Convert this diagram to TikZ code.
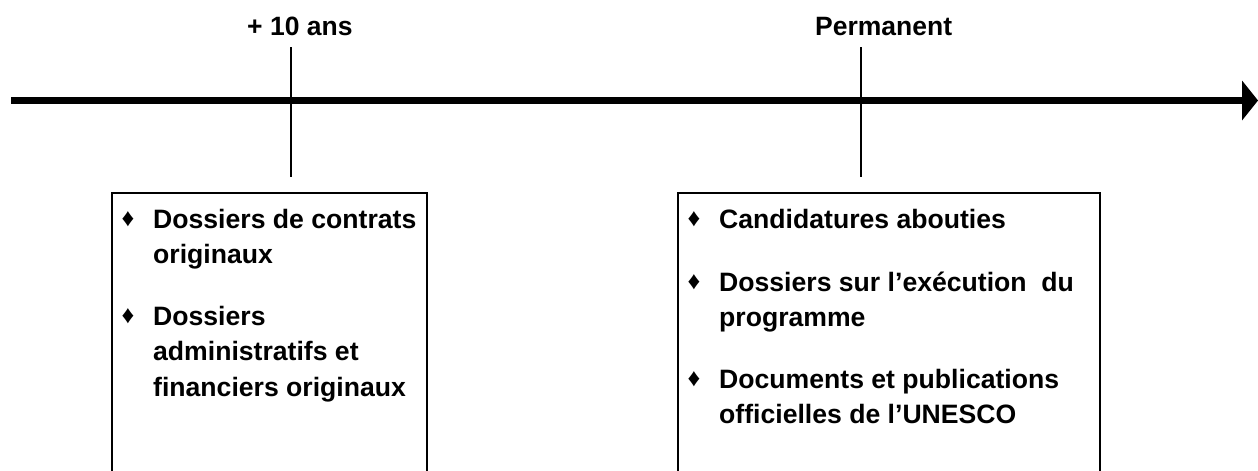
\documentclass[tikz,border=0pt]{standalone}
\usepackage{fontspec}
\setmainfont{Liberation Sans}
\begin{document}
\begin{tikzpicture}[x=1pt,y=-1pt,
  lbl/.style={inner sep=0pt,anchor=base west,font=\fontsize{26.5}{35.5}\selectfont\bfseries},
  itm/.style={inner sep=0pt,anchor=base west,font=\fontsize{26.6}{35.5}\selectfont\bfseries},
  bul/.style={inner sep=0pt,anchor=center,font=\fontsize{25}{28}\selectfont},
  boxst/.style={draw,line width=2pt,inner sep=0pt,anchor=north west},
  tick/.style={line width=1.5pt},
  axis/.style={line width=7pt}]
\useasboundingbox (0,0) rectangle (1258,471);
% axis
\coordinate (axs) at (11,100.5);
\coordinate (axe) at (1243,100.5);
\coordinate (tipt) at (1242,80.5);
\coordinate (tipm) at (1258,100.5);
\coordinate (tipb) at (1242,120.5);
\draw[axis] (axs) -- (axe);
\fill (tipt) -- (tipm) -- (tipb) -- cycle;
% labels
\node[lbl] (l1) at (247,35) {+ 10 ans};
\node[lbl] (l2) at (815,35) {Permanent};
% ticks
\coordinate (t1a) at (291,47);
\coordinate (t1b) at (291,177);
\coordinate (t2a) at (861,47);
\coordinate (t2b) at (861,177);
\draw[tick] (t1a) -- (t1b);
\draw[tick] (t2a) -- (t2b);
% boxes
\node[boxst,minimum width=315,minimum height=330] (b1) at (111,192) {};
\node[boxst,minimum width=422,minimum height=330] (b2) at (677,192) {};
% left items
\node[bul] (bl1) at (128,219) {♦};
\node[itm] (il1) at (153,228) {\begin{tabular}[t]{@{}l@{}}Dossiers de contrats\\originaux\end{tabular}};
\node[bul] (bl2) at (128,316) {♦};
\node[itm] (il2) at (153,325) {\begin{tabular}[t]{@{}l@{}}Dossiers\\administratifs et\\financiers originaux\end{tabular}};
% right items
\node[bul] (br1) at (694,219) {♦};
\node[itm] (ir1) at (719,228) {Candidatures abouties};
\node[bul] (br2) at (694,282) {♦};
\node[itm] (ir2) at (719,291) {\begin{tabular}[t]{@{}l@{}}Dossiers sur l’exécution\ \ du\\programme\end{tabular}};
\node[bul] (br3) at (694,379) {♦};
\node[itm] (ir3) at (719,388) {\begin{tabular}[t]{@{}l@{}}Documents et publications\\officielles de l’UNESCO\end{tabular}};
\end{tikzpicture}
\end{document}
